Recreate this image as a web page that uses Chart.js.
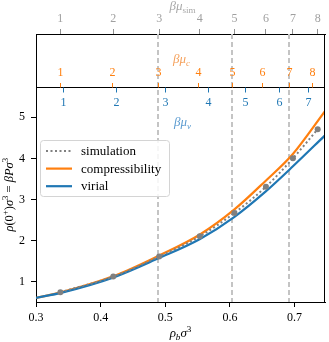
<!DOCTYPE html>
<html><head><meta charset="utf-8">
<script src="https://cdn.jsdelivr.net/npm/chart.js@4/dist/chart.umd.min.js"></script>
<style>html,body{margin:0;padding:0;background:#fff}</style>
</head><body>
<canvas id="c" width="329" height="342"></canvas>
<script>
// ---- data ----
const densityGrid      = [0.300, 0.340, 0.420, 0.490, 0.553, 0.6065, 0.655, 0.697, 0.747];
const compressibility  = [0.60, 0.74, 1.13, 1.63, 2.14, 2.75, 3.45, 4.10, 5.15];
const virial           = [0.60, 0.73, 1.10, 1.57, 2.03, 2.57, 3.19, 3.80, 4.56];
const simDensity       = [0.3377, 0.4195, 0.4905, 0.5533, 0.6069, 0.6556, 0.6974, 0.7357];
const simulation       = [0.74, 1.12, 1.61, 2.10, 2.67, 3.31, 4.00, 4.71];

const xTickValues = [0.3, 0.4, 0.5, 0.6, 0.7];
const yTickValues = [1, 2, 3, 4, 5];
const muSimLabels  = ['1','2','3','4','5','6','7','8'];
const muSimDensity = [0.3377, 0.4195, 0.4905, 0.5533, 0.6069, 0.6556, 0.6974, 0.7357];
const muCLabels    = ['1','2','3','4','5','6','7','8'];
const muCDensity   = [0.3377, 0.4180, 0.4890, 0.5503, 0.6024, 0.6494, 0.6908, 0.7265];
const muVLabels    = ['1','2','3','4','5','6','7'];
const muVDensity   = [0.3414, 0.4245, 0.4992, 0.5654, 0.6234, 0.6752, 0.7204];
const markerDensity = [0.4893, 0.6024, 0.6908];
const legendOrder = ['simulation', 'compressibility', 'virial'];

const X_MIN = 0.3, X_MAX = 0.747, Y_MIN = 0.5, Y_MAX = 7.03, Y_SPLIT = 5.73;

const ORANGE = '#ff7f0e', BLUE = '#1f77b4', GREY = '#808080';
const FONT = '"Liberation Serif", "Times New Roman", serif';

function pts(xs, ys) { return xs.map((x, i) => ({x, y: ys[i]})); }

function drawRich(ctx, parts, cx, cy, size, color) {
  ctx.save();
  ctx.fillStyle = color;
  ctx.textBaseline = 'alphabetic';
  const items = parts.map(p => {
    const small = p.sub || p.sup;
    const fs = small ? size * 0.7 : size;
    const f = (p.it ? 'italic ' : '') + fs + 'px ' + FONT;
    ctx.font = f;
    return {p, f, w: ctx.measureText(p.t).width};
  });
  const total = items.reduce((a, b) => a + b.w, 0);
  let x = cx - total / 2;
  const base = cy + size * 0.33;
  items.forEach(it => {
    ctx.font = it.f;
    let y = base;
    if (it.p.sub) y += size * 0.22;
    if (it.p.sup) y -= size * 0.38;
    ctx.fillText(it.p.t, x, y);
    x += it.w;
  });
  ctx.restore();
}

const panelPlugin = {
  id: 'panels',
  beforeDatasetsDraw(chart) {
    const {ctx, chartArea: a, scales: {x}} = chart;
    ctx.save();
    ctx.strokeStyle = '#c4c4c4';
    ctx.lineWidth = 2;
    ctx.setLineDash([5, 3]);
    markerDensity.forEach(d => {
      const px = Math.round(x.getPixelForValue(d));
      ctx.beginPath(); ctx.moveTo(px, a.top); ctx.lineTo(px, a.bottom); ctx.stroke();
    });
    ctx.restore();
  },
  afterDraw(chart) {
    const {ctx, chartArea: a, scales: {x, y}} = chart;
    const ys = Math.round(y.getPixelForValue(Y_SPLIT)) + 0.5;
    ctx.save();
    // spines
    ctx.strokeStyle = '#000'; ctx.lineWidth = 1;
    ctx.beginPath(); ctx.moveTo(a.left, ys); ctx.lineTo(a.right, ys); ctx.stroke();
    ctx.beginPath(); ctx.moveTo(Math.round(a.right) - 0.5, a.top); ctx.lineTo(Math.round(a.right) - 0.5, a.bottom); ctx.stroke();
    // orange (compressibility) axis
    ctx.font = '12px ' + FONT; ctx.textAlign = 'center'; ctx.textBaseline = 'middle';
    ctx.strokeStyle = ORANGE; ctx.fillStyle = ORANGE;
    muCDensity.forEach((d, i) => {
      const px = Math.round(x.getPixelForValue(d)) + 0.5;
      ctx.beginPath(); ctx.moveTo(px, ys - 4.5); ctx.lineTo(px, ys); ctx.stroke();
      ctx.fillText(muCLabels[i], px, ys - 15);
    });
    // blue (virial) axis
    ctx.strokeStyle = BLUE; ctx.fillStyle = BLUE;
    muVDensity.forEach((d, i) => {
      const px = Math.round(x.getPixelForValue(d)) + 0.5;
      ctx.beginPath(); ctx.moveTo(px, ys); ctx.lineTo(px, ys + 5); ctx.stroke();
      ctx.fillText(muVLabels[i], px, ys + 15.5);
    });
    ctx.restore();
    const cx = (a.left + a.right) / 2;
    drawRich(ctx, [{t:'β', it:true}, {t:'μ', it:true}, {t:'c', it:true, sub:true}], cx + 1, 59, 13, '#f5a05a');
    drawRich(ctx, [{t:'β', it:true}, {t:'μ', it:true}, {t:'v', it:true, sub:true}], cx + 2, 122, 13, '#5b9bd0');
    drawRich(ctx, [{t:'β', it:true}, {t:'μ', it:true}, {t:'sim', sub:true}], cx + 2, 6, 13, '#a8a8a8');
    drawRich(ctx, [{t:'ρ', it:true}, {t:'b', it:true, sub:true}, {t:'σ', it:true}, {t:'3', sup:true}], cx, 333, 13, '#000');
    ctx.save();
    ctx.translate(9, (ys + a.bottom) / 2);
    ctx.rotate(-Math.PI / 2);
    drawRich(ctx, [{t:'ρ', it:true}, {t:'(0'}, {t:'+', sup:true}, {t:')'}, {t:'σ', it:true}, {t:'3', sup:true},
                   {t:' = '}, {t:'βPσ', it:true}, {t:'3', sup:true}], 0, 0, 12.5, '#000');
    ctx.restore();
    // legend
    ctx.save();
    ctx.fillStyle = 'rgba(255,255,255,0.85)';
    ctx.strokeStyle = '#d4d4d4'; ctx.lineWidth = 1;
    ctx.beginPath(); ctx.roundRect(40.5, 140.5, 129, 56, 3); ctx.fill(); ctx.stroke();
    ctx.font = '13px ' + FONT; ctx.textBaseline = 'middle'; ctx.textAlign = 'left';
    legendOrder.forEach((lab, i) => {
      const ds = chart.data.datasets.find(d => d.label === lab);
      const ry = 151 + i * 17.6;
      ctx.strokeStyle = ds.borderColor; ctx.lineWidth = ds.borderWidth;
      ctx.setLineDash(ds.borderDash || []);
      ctx.beginPath(); ctx.moveTo(46, ry); ctx.lineTo(72, ry); ctx.stroke();
      ctx.setLineDash([]);
      ctx.fillStyle = '#000';
      ctx.fillText(lab, 81, ry + 0.5);
    });
    ctx.restore();
  }
};

const tickFont = {family: FONT, size: 12};

new Chart(document.getElementById('c'), {
  type: 'line',
  data: {
    datasets: [
      {label: 'simulation', data: pts(simDensity, simulation), borderColor: GREY, backgroundColor: GREY,
       borderWidth: 2, borderDash: [2, 2.5], pointRadius: 3, pointBorderWidth: 0, pointBackgroundColor: GREY,
       cubicInterpolationMode: 'monotone'},
      {label: 'virial', data: pts(densityGrid, virial), borderColor: BLUE, borderWidth: 2.2, pointRadius: 0,
       cubicInterpolationMode: 'monotone'},
      {label: 'compressibility', data: pts(densityGrid, compressibility), borderColor: ORANGE, borderWidth: 2.2,
       pointRadius: 0, cubicInterpolationMode: 'monotone'}
    ]
  },
  options: {
    responsive: false, animation: false, devicePixelRatio: 1,
    layout: {padding: {left: 0, right: 2, top: 0, bottom: 0}},
    plugins: {legend: {display: false}, tooltip: {enabled: false}},
    scales: {
      x: {
        type: 'linear', position: 'bottom', min: X_MIN, max: X_MAX,
        afterBuildTicks: s => { s.ticks = xTickValues.map(v => ({value: v})); },
        afterFit: s => { s.height = 40; },
        ticks: {callback: v => v.toFixed(1), font: tickFont, color: '#000', padding: 4, maxRotation: 0, autoSkip: false},
        grid: {drawOnChartArea: false, drawTicks: true, tickLength: 5, color: '#000'},
        border: {color: '#000', width: 1}
      },
      xsim: {
        type: 'linear', position: 'top', min: X_MIN, max: X_MAX,
        afterBuildTicks: s => { s.ticks = muSimDensity.map(v => ({value: v})); },
        afterFit: s => { s.height = 34; },
        ticks: {callback: (v, i) => muSimLabels[i], font: tickFont, color: '#a0a0a0', padding: 3, maxRotation: 0, autoSkip: false},
        grid: {drawOnChartArea: false, drawTicks: true, tickLength: 5, color: '#909090'},
        border: {color: '#000', width: 1}
      },
      y: {
        type: 'linear', position: 'left', min: Y_MIN, max: Y_MAX,
        afterBuildTicks: s => { s.ticks = yTickValues.map(v => ({value: v})); },
        afterFit: s => { s.width = 36; },
        ticks: {callback: v => String(v), font: tickFont, color: '#000', padding: 6, autoSkip: false},
        grid: {drawOnChartArea: false, drawTicks: true, tickLength: 5, color: '#000'},
        border: {color: '#000', width: 1}
      }
    }
  },
  plugins: [panelPlugin]
});
</script>
</body></html>
